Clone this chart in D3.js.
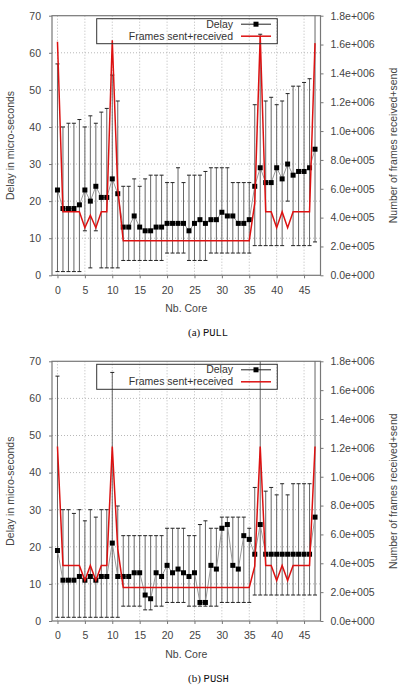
<!DOCTYPE html>
<html>
<head>
<meta charset="utf-8">
<script src="https://cdn.jsdelivr.net/npm/d3@7"></script>
<style>
body { margin: 0; background: #fff; }
text { font-family: "Liberation Sans", Arial, sans-serif; }
</style>
</head>
<body>
<div id="chart"></div>
<script>
const WIDTH = 402;
const HEIGHT = 685;
const PLOT_LEFT = 52;
const PLOT_RIGHT = 320.5;
const RED = "#dd1111";

const cores = [0,1,2,3,4,5,6,7,8,9,10,11,12,13,14,15,16,17,18,19,20,21,22,23,
    24,25,26,27,28,29,30,31,32,33,34,35,36,37,38,39,40,41,42,43,44,45,46,47];
const xTicks = [0,5,10,15,20,25,30,35,40,45];
const yTicks = [0,10,20,30,40,50,60,70];
const y2Ticks = [0,2e5,4e5,6e5,8e5,1e6,1.2e6,1.4e6,1.6e6,1.8e6];

// PULL
const pullDelay = [23,18,18,18,19,23,20,24,21,21,26,22,13,13,16,13,12,12,13,13,14,14,14,14,
    12,14,15,14,15,15,17,16,16,14,14,15,24,29,25,25,29,26,30,27,28,28,29,34];
const pullLow = [1,1,1,1,1,12,2,12,2,2,2,2,4,4,4,4,4,4,4,4,6,6,6,6,
    4,4,4,4,6,6,6,6,6,6,6,6,8,8,8,8,8,8,20,8,8,8,8,9];
const pullHigh = [57,40,41,41,42,40,43,41,44,45,54,47,24,24,26,24,26,27,27,27,25,25,29,25,
    27,27,27,28,29,29,29,29,25,25,25,25,46,65,47,48,46,47,49,51,51,52,53,80];
const pullFrames = [1.62e6,4.4e5,4.4e5,4.4e5,4.4e5,3.3e5,4.15e5,3.3e5,4.4e5,4.4e5,1.63e6,6e5,
    2.4e5,2.4e5,2.4e5,2.4e5,2.4e5,2.4e5,2.4e5,2.4e5,2.4e5,2.4e5,2.4e5,2.4e5,
    2.4e5,2.4e5,2.4e5,2.4e5,2.4e5,2.4e5,2.4e5,2.4e5,2.4e5,2.4e5,2.4e5,2.4e5,
    5e5,1.66e6,4.4e5,4.4e5,3.3e5,4.4e5,3.3e5,4.4e5,4.4e5,4.4e5,4.4e5,1.61e6];

// PUSH
const pushDelay = [19,11,11,11,12,11,12,11,12,12,21,12,12,12,13,13,7,6,13,12,15,13,14,13,
    12,13,5,5,15,14,25,26,15,14,23,22,18,26,18,18,18,18,18,18,18,18,18,28];
const pushLow = [1,1,1,1,1,1,1,1,1,1,1,1,4,4,4,4,3,3,4,4,5,5,5,5,
    4,4,4,4,4,4,5,5,5,5,5,5,7,7,7,7,7,7,7,7,7,7,7,7];
const pushHigh = [66,30,30,29,30,27,30,28,30,30,67,31,23,23,23,23,23,23,23,23,25,25,25,25,
    23,23,26,27,25,25,28,28,28,28,28,25,36,80,35,36,34,37,34,37,37,37,37,80];
const pushFrames = [1.21e6,3.85e5,3.85e5,3.85e5,3.85e5,2.8e5,3.85e5,2.8e5,3.85e5,3.85e5,1.21e6,5e5,
    2.33e5,2.33e5,2.33e5,2.33e5,2.33e5,2.33e5,2.33e5,2.33e5,2.33e5,2.33e5,2.33e5,2.33e5,
    2.33e5,2.33e5,2.33e5,2.33e5,2.33e5,2.33e5,2.33e5,2.33e5,2.33e5,2.33e5,2.33e5,2.33e5,
    3.8e5,1.21e6,3.85e5,3.85e5,2.8e5,3.85e5,2.8e5,3.85e5,3.85e5,3.85e5,3.85e5,1.21e6];

function sciFormat(v) {
    // gnuplot style: 1.8e+006
    return v.toExponential(1).replace(/e([+-])(\d+)/, (m, s, e) => "e" + s + e.padStart(3, "0"));
}

function drawPanel(svg, p) {
    var g = svg.append("g");
    var x = d3.scaleLinear().domain([-1, 48]).range([PLOT_LEFT, PLOT_RIGHT]);
    var y = d3.scaleLinear().domain([0, 70]).range([p.bottom, p.top]);
    var y2 = d3.scaleLinear().domain([0, 1.8e6]).range([p.bottom, p.top]);

    g.append("clipPath").attr("id", p.id + "-clip")
        .append("rect")
        .attr("x", PLOT_LEFT).attr("y", p.top)
        .attr("width", PLOT_RIGHT - PLOT_LEFT).attr("height", p.bottom - p.top);

    // grid
    g.selectAll(".vgrid").data(xTicks).enter().append("line")
        .attr("x1", d => x(d)).attr("x2", d => x(d))
        .attr("y1", p.top).attr("y2", p.bottom)
        .attr("stroke", "#b8b8b8").attr("stroke-dasharray", "1,2");
    g.selectAll(".hgrid").data(yTicks.slice(1, -1)).enter().append("line")
        .attr("x1", PLOT_LEFT).attr("x2", PLOT_RIGHT)
        .attr("y1", d => y(d)).attr("y2", d => y(d))
        .attr("stroke", "#b8b8b8").attr("stroke-dasharray", "1,2");

    // axes
    var xAxis = d3.axisBottom(x).tickValues(xTicks).tickSize(3).tickSizeOuter(0).tickPadding(8);
    var yAxis = d3.axisLeft(y).tickValues(yTicks).tickSize(3).tickSizeOuter(0).tickPadding(8);
    var y2Axis = d3.axisRight(y2).tickValues(y2Ticks).tickSize(3).tickSizeOuter(0).tickPadding(7)
        .tickFormat(sciFormat);

    [
        [xAxis, "translate(0," + p.bottom + ")"],
        [yAxis, "translate(" + PLOT_LEFT + ",0)"],
        [y2Axis, "translate(" + PLOT_RIGHT + ",0)"]
    ].forEach(function(a) {
        var ax = g.append("g").attr("transform", a[1]).call(a[0]);
        ax.select(".domain").remove();
        ax.selectAll("line").attr("stroke", "#777");
        ax.selectAll("text").attr("fill", "#444")
            .style("font-family", "'Liberation Sans', Arial, sans-serif")
            .style("font-size", "10.5px");
    });

    g.append("rect")
        .attr("x", PLOT_LEFT).attr("y", p.top)
        .attr("width", PLOT_RIGHT - PLOT_LEFT).attr("height", p.bottom - p.top)
        .attr("fill", "none").attr("stroke", "#777").attr("stroke-width", 1.2);

    var mid = (p.top + p.bottom) / 2;
    g.append("text")
        .attr("transform", "translate(14," + mid + ") rotate(-90)")
        .attr("text-anchor", "middle").attr("fill", "#444").style("font-size", "10.5px")
        .text("Delay in micro-seconds");
    g.append("text")
        .attr("transform", "translate(397," + mid + ") rotate(-90)")
        .attr("text-anchor", "middle").attr("fill", "#444").style("font-size", "10.5px")
        .text("Number of frames received+send");
    g.append("text")
        .attr("x", (PLOT_LEFT + PLOT_RIGHT) / 2).attr("y", p.bottom + 37)
        .attr("text-anchor", "middle").attr("fill", "#444").style("font-size", "10.5px")
        .text("Nb. Core");

    // data
    var plot = g.append("g").attr("clip-path", "url(#" + p.id + "-clip)");

    // error bars
    plot.selectAll(".err").data(cores).enter().append("line")
        .attr("x1", d => x(d)).attr("x2", d => x(d))
        .attr("y1", d => y(p.low[d])).attr("y2", d => y(p.high[d]))
        .attr("stroke", "#666").attr("stroke-width", 1);
    plot.selectAll(".capl").data(cores).enter().append("line")
        .attr("x1", d => x(d) - 2).attr("x2", d => x(d) + 2)
        .attr("y1", d => y(p.low[d])).attr("y2", d => y(p.low[d]))
        .attr("stroke", "#222");
    plot.selectAll(".caph").data(cores).enter().append("line")
        .attr("x1", d => x(d) - 2).attr("x2", d => x(d) + 2)
        .attr("y1", d => y(p.high[d])).attr("y2", d => y(p.high[d]))
        .attr("stroke", "#222");

    // delay line + squares
    plot.append("path").datum(cores)
        .attr("fill", "none").attr("stroke", "#999").attr("stroke-width", 1)
        .attr("d", d3.line().x(d => x(d)).y(d => y(p.delay[d])));
    plot.selectAll(".pt").data(cores).enter().append("rect")
        .attr("x", d => x(d) - 2.5).attr("y", d => y(p.delay[d]) - 2.5)
        .attr("width", 5).attr("height", 5).attr("fill", "#000");

    // frames
    plot.append("path").datum(cores)
        .attr("fill", "none").attr("stroke", RED).attr("stroke-width", 1.5)
        .attr("d", d3.line().x(d => x(d)).y(d => y2(p.frames[d])));

    // legend (transparent box like gnuplot)
    var lx = 96.7, lw = 180.6, ly = p.top + 3;
    g.append("rect").attr("x", lx).attr("y", ly).attr("width", lw).attr("height", 25)
        .attr("fill", "none").attr("stroke", "#333").attr("stroke-width", 1);
    g.append("text").attr("x", 233).attr("y", ly + 9).attr("text-anchor", "end")
        .attr("fill", "#333").style("font-size", "10.5px").text("Delay");
    g.append("text").attr("x", 233).attr("y", ly + 21).attr("text-anchor", "end")
        .attr("fill", "#333").style("font-size", "10.5px").text("Frames sent+received");
    g.append("line").attr("x1", 241).attr("x2", 271).attr("y1", ly + 5.5).attr("y2", ly + 5.5)
        .attr("stroke", "#222");
    g.append("rect").attr("x", 253.5).attr("y", ly + 3).attr("width", 5).attr("height", 5)
        .attr("fill", "#000");
    g.append("line").attr("x1", 241).attr("x2", 271).attr("y1", ly + 17.5).attr("y2", ly + 17.5)
        .attr("stroke", RED).attr("stroke-width", 1.5);

    // caption
    var cap = g.append("text").attr("x", 188).attr("y", p.bottom + 61).attr("fill", "#111");
    cap.append("tspan").style("font-family", "'Liberation Serif', 'DejaVu Serif', serif")
        .style("font-size", "11px").text(p.tag + " ");
    cap.append("tspan").style("font-family", "'Liberation Mono', 'DejaVu Sans Mono', monospace")
        .style("font-size", "10.5px").text(p.name);
}

var svg = d3.select("#chart").append("svg")
    .attr("width", WIDTH).attr("height", HEIGHT);

drawPanel(svg, { id: "pull", top: 15.7, bottom: 275.3, tag: "(a)", name: "PULL",
    delay: pullDelay, low: pullLow, high: pullHigh, frames: pullFrames });
drawPanel(svg, { id: "push", top: 361.3, bottom: 621, tag: "(b)", name: "PUSH",
    delay: pushDelay, low: pushLow, high: pushHigh, frames: pushFrames });
</script>
</body>
</html>
